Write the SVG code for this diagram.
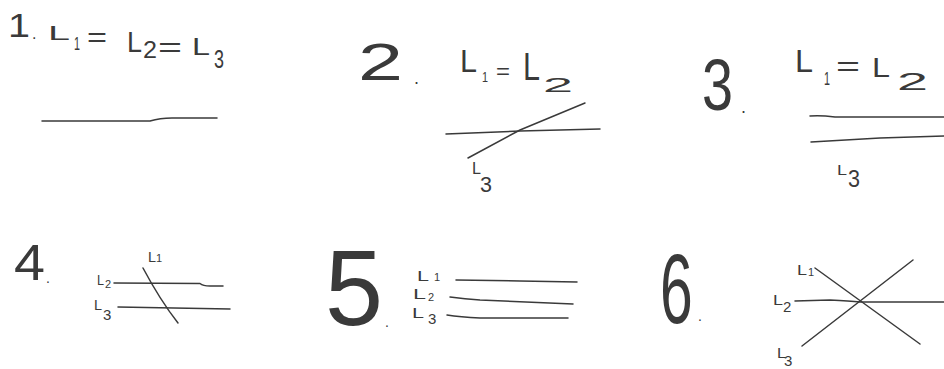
<svg xmlns="http://www.w3.org/2000/svg" width="944" height="369" viewBox="0 0 944 369">
<style>
text{font-family:"Liberation Sans","DejaVu Sans",sans-serif;fill:#3a3a3a}
.ln{fill:none;stroke:#3a3a3a;stroke-width:1.5;stroke-linecap:round;stroke-linejoin:round}
.lb{font-size:15px}
.sb{font-size:11px}
</style>
<rect width="944" height="369" fill="#fff"/>
<g id="panel1">
<text x="8" y="37" font-size="34" textLength="22" lengthAdjust="spacingAndGlyphs">1</text>
<text x="32" y="39" font-size="16">.</text>
<text x="48" y="40" font-size="21" textLength="22" lengthAdjust="spacingAndGlyphs">L</text>
<text x="74" y="50" font-size="18" textLength="6" lengthAdjust="spacingAndGlyphs">1</text>
<text x="87" y="47" font-size="28" textLength="20" lengthAdjust="spacingAndGlyphs">=</text>
<text x="127" y="52" font-size="30" textLength="15" lengthAdjust="spacingAndGlyphs">L</text>
<text x="143" y="58" font-size="24" textLength="14" lengthAdjust="spacingAndGlyphs">2</text>
<text x="158" y="57" font-size="28" textLength="24" lengthAdjust="spacingAndGlyphs">=</text>
<text x="192" y="55" font-size="24" textLength="18" lengthAdjust="spacingAndGlyphs">L</text>
<text x="214" y="68" font-size="25" textLength="10" lengthAdjust="spacingAndGlyphs">3</text>
</g>
<g id="panel2">
<text x="358" y="80" font-size="52" textLength="45" lengthAdjust="spacingAndGlyphs">2</text>
<text x="414" y="84" font-size="18">.</text>
<text x="460" y="72" font-size="31" textLength="17" lengthAdjust="spacingAndGlyphs">L</text>
<text x="482" y="82" font-size="14" textLength="6" lengthAdjust="spacingAndGlyphs">1</text>
<text x="496" y="79" font-size="22" textLength="14" lengthAdjust="spacingAndGlyphs">=</text>
<text x="523" y="80" font-size="39" textLength="17" lengthAdjust="spacingAndGlyphs">L</text>
<text x="543" y="92" font-size="21" textLength="30" lengthAdjust="spacingAndGlyphs">2</text>
<text x="472" y="174" font-size="17" textLength="9" lengthAdjust="spacingAndGlyphs">L</text>
<text x="480" y="192" font-size="22" textLength="12" lengthAdjust="spacingAndGlyphs">3</text>
</g>
<g id="panel3">
<text x="702" y="110" font-size="72" textLength="31" lengthAdjust="spacingAndGlyphs">3</text>
<text x="741" y="113" font-size="18">.</text>
<text x="795" y="72" font-size="31" textLength="18" lengthAdjust="spacingAndGlyphs">L</text>
<text x="824" y="85" font-size="18" textLength="6" lengthAdjust="spacingAndGlyphs">1</text>
<text x="836" y="76" font-size="28" textLength="24" lengthAdjust="spacingAndGlyphs">=</text>
<text x="872" y="77" font-size="28" textLength="18" lengthAdjust="spacingAndGlyphs">L</text>
<text x="897" y="90" font-size="24" textLength="31" lengthAdjust="spacingAndGlyphs">2</text>
<text x="837" y="175" font-size="14" textLength="10" lengthAdjust="spacingAndGlyphs">L</text>
<text x="848" y="187" font-size="24" textLength="12" lengthAdjust="spacingAndGlyphs">3</text>
</g>
<g id="panel4">
<text x="14" y="280" font-size="50" textLength="31" lengthAdjust="spacingAndGlyphs">4</text>
<text x="46" y="283" font-size="14">.</text>
<text x="148" y="262" class="lb" textLength="8" lengthAdjust="spacingAndGlyphs">L</text>
<text x="156" y="262" class="sb">1</text>
<text x="97" y="285" class="lb" textLength="7" lengthAdjust="spacingAndGlyphs">L</text>
<text x="105" y="288" class="sb">2</text>
<text x="94" y="310" class="lb" textLength="8" lengthAdjust="spacingAndGlyphs">L</text>
<text x="103" y="320" font-size="15">3</text>
</g>
<g id="panel5">
<text x="325" y="325" font-size="108" textLength="58" lengthAdjust="spacingAndGlyphs">5</text>
<text x="385" y="327" font-size="14">.</text>
<text x="417" y="281" class="lb" textLength="12" lengthAdjust="spacingAndGlyphs">L</text>
<text x="434" y="281" class="sb">1</text>
<text x="413" y="299" class="lb" textLength="13" lengthAdjust="spacingAndGlyphs">L</text>
<text x="428" y="301" class="sb">2</text>
<text x="412" y="318" class="lb" textLength="12" lengthAdjust="spacingAndGlyphs">L</text>
<text x="428" y="324" font-size="15">3</text>
</g>
<g id="panel6">
<text x="0" y="0" font-size="98" transform="translate(660 323) scale(0.6 1)">6</text>
<text x="698" y="321" font-size="14">.</text>
<text x="797" y="275" class="lb" textLength="10" lengthAdjust="spacingAndGlyphs">L</text>
<text x="808" y="276" class="sb">1</text>
<text x="773" y="305" class="lb" textLength="10" lengthAdjust="spacingAndGlyphs">L</text>
<text x="783" y="312" font-size="15">2</text>
<text x="777" y="358" class="lb" textLength="9" lengthAdjust="spacingAndGlyphs">L</text>
<text x="784" y="366" font-size="15">3</text>
</g>
<g id="lines">
<path class="ln" d="M42 121 L150 121 Q160 118 172 118 L217 118"/>
<path class="ln" d="M446 134 L520 131 L600 129"/>
<path class="ln" d="M468 158 L520 130 L585 103"/>
<path class="ln" d="M810 116 Q820 115 835 117 L944 117"/>
<path class="ln" d="M811 142 L880 138 L944 136"/>
<path class="ln" d="M114 283 L200 283.5 Q203 286 210 286 L223 286"/>
<path class="ln" d="M118 307 L230 309"/>
<path class="ln" d="M143 268 Q160 300 178 323"/>
<path class="ln" d="M456 280 L520 281 L577 282"/>
<path class="ln" d="M450 297 Q465 299 480 300 L573 304"/>
<path class="ln" d="M447 315 Q460 317 480 318 L568 318"/>
<path class="ln" d="M815 268 L920 344"/>
<path class="ln" d="M802 346 L913 260"/>
<path class="ln" d="M795 301 L830 300 Q850 301 860 302 L944 302"/>
</g>
</svg>
